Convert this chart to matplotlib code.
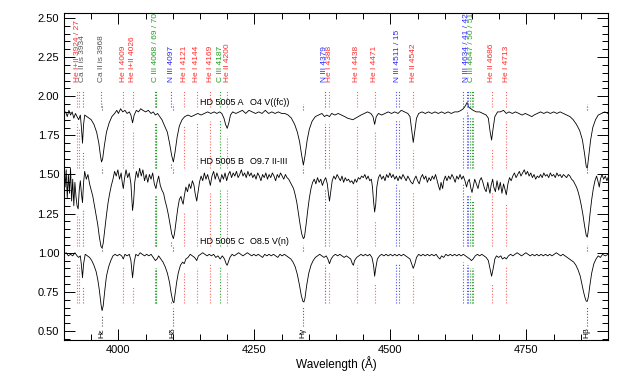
import numpy as np
import matplotlib
matplotlib.use("Agg")
import matplotlib.pyplot as plt
from matplotlib.ticker import MultipleLocator, FormatStrFormatter

plt.rcParams["font.family"] = ["Liberation Sans", "DejaVu Sans"]

# normalised spectra with vertical offsets: (wavelength, flux)
spec_a = [
    (3900, 1.89), (3903, 1.90), (3906, 1.87), (3909, 1.91), (3912, 1.88), (3915, 1.90),
    (3918, 1.86), (3921, 1.89), (3924, 1.87), (3927, 1.85), (3930, 1.88), (3932, 1.80),
    (3934, 1.70), (3936, 1.82), (3938, 1.88), (3942, 1.87), (3946, 1.86), (3950, 1.85),
    (3955, 1.82), (3960, 1.77), (3964, 1.70), (3967, 1.62), (3969, 1.58), (3971, 1.60),
    (3974, 1.68), (3978, 1.77), (3983, 1.83), (3988, 1.87), (3993, 1.89), (3997, 1.91),
    (4000, 1.89), (4004, 1.92), (4008, 1.90), (4012, 1.91), (4016, 1.89), (4020, 1.90),
    (4023, 1.88), (4026, 1.83), (4029, 1.88), (4033, 1.91), (4037, 1.90), (4041, 1.92),
    (4045, 1.91), (4050, 1.90), (4055, 1.91), (4060, 1.89), (4064, 1.90), (4068, 1.88),
    (4072, 1.89), (4076, 1.87), (4080, 1.85), (4085, 1.81), (4090, 1.77), (4094, 1.70),
    (4098, 1.62), (4101, 1.58), (4104, 1.64), (4108, 1.74), (4112, 1.81), (4117, 1.85),
    (4122, 1.87), (4128, 1.88), (4134, 1.87), (4140, 1.88), (4146, 1.89), (4152, 1.88),
    (4158, 1.89), (4164, 1.90), (4170, 1.89), (4176, 1.90), (4181, 1.89), (4186, 1.90),
    (4190, 1.89), (4194, 1.86), (4197, 1.82), (4200, 1.795), (4203, 1.83), (4206, 1.88),
    (4210, 1.90), (4216, 1.89), (4222, 1.90), (4228, 1.91), (4234, 1.89), (4240, 1.91),
    (4246, 1.90), (4252, 1.89), (4258, 1.90), (4264, 1.89), (4270, 1.91), (4276, 1.89),
    (4282, 1.90), (4288, 1.89), (4294, 1.90), (4300, 1.89), (4306, 1.89), (4312, 1.88),
    (4318, 1.86), (4324, 1.82), (4329, 1.77), (4333, 1.71), (4337, 1.62), (4340, 1.56),
    (4343, 1.62), (4347, 1.72), (4351, 1.79), (4356, 1.84), (4362, 1.87), (4368, 1.88),
    (4374, 1.89), (4379, 1.87), (4383, 1.88), (4388, 1.87), (4392, 1.89), (4398, 1.88),
    (4404, 1.89), (4410, 1.88), (4416, 1.87), (4421, 1.86), (4426, 1.855), (4431, 1.85),
    (4436, 1.86), (4441, 1.87), (4446, 1.88), (4452, 1.89), (4458, 1.90), (4464, 1.89),
    (4468, 1.87), (4471, 1.82), (4474, 1.87), (4478, 1.89), (4484, 1.88), (4490, 1.89),
    (4496, 1.90), (4502, 1.89), (4508, 1.90), (4514, 1.89), (4520, 1.91), (4526, 1.90),
    (4532, 1.89), (4536, 1.87), (4539, 1.79), (4542, 1.705), (4545, 1.78), (4548, 1.86),
    (4552, 1.89), (4558, 1.90), (4564, 1.89), (4570, 1.90), (4576, 1.89), (4582, 1.90),
    (4588, 1.89), (4594, 1.90), (4600, 1.89), (4606, 1.90), (4612, 1.89), (4618, 1.90),
    (4624, 1.90), (4630, 1.91), (4634, 1.92), (4638, 1.94), (4641, 1.96), (4644, 1.93),
    (4648, 1.92), (4652, 1.91), (4658, 1.90), (4664, 1.90), (4670, 1.89), (4676, 1.88),
    (4680, 1.86), (4683, 1.78), (4686, 1.72), (4689, 1.80), (4692, 1.87), (4697, 1.90),
    (4702, 1.90), (4708, 1.91), (4713, 1.89), (4718, 1.90), (4724, 1.89), (4730, 1.90),
    (4736, 1.89), (4742, 1.88), (4748, 1.89), (4754, 1.88), (4760, 1.87), (4764, 1.88),
    (4770, 1.89), (4776, 1.90), (4782, 1.89), (4788, 1.90), (4794, 1.89), (4800, 1.90),
    (4806, 1.89), (4812, 1.90), (4818, 1.89), (4824, 1.88), (4830, 1.87), (4836, 1.85),
    (4842, 1.82), (4848, 1.78), (4853, 1.72), (4857, 1.63), (4860, 1.55), (4862, 1.54),
    (4864, 1.60), (4868, 1.72), (4872, 1.80), (4877, 1.85), (4882, 1.88), (4888, 1.89),
    (4894, 1.90), (4900, 1.89),
]

spec_b = [
    (3900, 1.55), (3902, 1.42), (3904, 1.53), (3906, 1.35), (3908, 1.50), (3910, 1.38),
    (3912, 1.54), (3914, 1.33), (3916, 1.47), (3918, 1.30), (3920, 1.45), (3922, 1.36),
    (3924, 1.30), (3926, 1.28), (3928, 1.40), (3930, 1.46), (3932, 1.38), (3934, 1.32),
    (3936, 1.45), (3938, 1.52), (3941, 1.47), (3944, 1.50), (3947, 1.44), (3950, 1.40),
    (3953, 1.36), (3956, 1.30), (3959, 1.24), (3962, 1.18), (3965, 1.10), (3968, 1.04),
    (3970, 1.03), (3972, 1.06), (3975, 1.15), (3978, 1.24), (3981, 1.32), (3984, 1.38),
    (3987, 1.43), (3990, 1.47), (3993, 1.52), (3996, 1.49), (3999, 1.53), (4002, 1.47),
    (4005, 1.51), (4007, 1.45), (4009, 1.41), (4011, 1.47), (4014, 1.53), (4017, 1.48),
    (4020, 1.51), (4023, 1.44), (4025, 1.32), (4026, 1.27), (4028, 1.33), (4030, 1.45),
    (4033, 1.52), (4036, 1.48), (4039, 1.54), (4042, 1.49), (4045, 1.53), (4048, 1.46),
    (4051, 1.50), (4054, 1.45), (4057, 1.50), (4060, 1.47), (4063, 1.51), (4066, 1.44),
    (4069, 1.41), (4071, 1.45), (4074, 1.49), (4077, 1.43), (4080, 1.40), (4083, 1.38),
    (4086, 1.33), (4089, 1.29), (4092, 1.24), (4095, 1.18), (4098, 1.12), (4101, 1.09),
    (4103, 1.12), (4106, 1.20), (4109, 1.28), (4112, 1.34), (4115, 1.36), (4117, 1.33),
    (4119, 1.31), (4121, 1.36), (4124, 1.42), (4127, 1.39), (4130, 1.44), (4133, 1.41),
    (4136, 1.46), (4139, 1.43), (4141, 1.38), (4144, 1.33), (4146, 1.38), (4149, 1.45),
    (4152, 1.49), (4155, 1.46), (4158, 1.51), (4161, 1.47), (4164, 1.50), (4167, 1.46),
    (4169, 1.43), (4172, 1.49), (4175, 1.52), (4178, 1.47), (4181, 1.51), (4184, 1.48),
    (4187, 1.45), (4190, 1.50), (4193, 1.47), (4196, 1.51), (4199, 1.46), (4202, 1.50),
    (4205, 1.52), (4208, 1.48), (4211, 1.51), (4214, 1.49), (4217, 1.52), (4220, 1.48),
    (4223, 1.50), (4226, 1.53), (4229, 1.49), (4232, 1.51), (4235, 1.48), (4238, 1.52),
    (4241, 1.49), (4244, 1.51), (4247, 1.48), (4250, 1.50), (4253, 1.47), (4256, 1.51),
    (4259, 1.49), (4262, 1.46), (4265, 1.50), (4268, 1.48), (4271, 1.51), (4274, 1.47),
    (4277, 1.50), (4280, 1.48), (4283, 1.51), (4286, 1.49), (4289, 1.46), (4292, 1.50),
    (4295, 1.48), (4298, 1.51), (4301, 1.49), (4304, 1.47), (4307, 1.50), (4310, 1.48),
    (4313, 1.47), (4316, 1.45), (4319, 1.43), (4322, 1.41), (4325, 1.37), (4328, 1.32),
    (4331, 1.25), (4334, 1.18), (4337, 1.12), (4340, 1.09), (4342, 1.10), (4345, 1.18),
    (4348, 1.27), (4351, 1.35), (4354, 1.41), (4357, 1.45), (4360, 1.47), (4363, 1.44),
    (4366, 1.48), (4369, 1.45), (4372, 1.47), (4375, 1.43), (4378, 1.46), (4381, 1.48),
    (4384, 1.44), (4386, 1.38), (4388, 1.33), (4390, 1.38), (4393, 1.46), (4396, 1.49),
    (4399, 1.47), (4402, 1.50), (4405, 1.48), (4408, 1.46), (4411, 1.49), (4414, 1.45),
    (4417, 1.48), (4420, 1.46), (4423, 1.47), (4426, 1.45), (4429, 1.46), (4432, 1.44),
    (4435, 1.47), (4438, 1.45), (4441, 1.48), (4444, 1.47), (4447, 1.49), (4450, 1.48),
    (4453, 1.50), (4456, 1.47), (4459, 1.49), (4462, 1.46), (4465, 1.47), (4467, 1.42),
    (4469, 1.33), (4471, 1.26), (4473, 1.31), (4475, 1.42), (4478, 1.48), (4481, 1.50),
    (4484, 1.47), (4487, 1.49), (4490, 1.46), (4493, 1.50), (4496, 1.48), (4499, 1.51),
    (4502, 1.48), (4505, 1.50), (4508, 1.47), (4511, 1.49), (4514, 1.46), (4517, 1.49),
    (4520, 1.47), (4523, 1.50), (4526, 1.48), (4529, 1.46), (4532, 1.49), (4535, 1.47),
    (4538, 1.45), (4541, 1.44), (4544, 1.47), (4547, 1.49), (4550, 1.46), (4553, 1.44),
    (4556, 1.48), (4559, 1.50), (4562, 1.47), (4565, 1.49), (4568, 1.45), (4571, 1.48),
    (4574, 1.46), (4577, 1.49), (4580, 1.47), (4583, 1.50), (4586, 1.46), (4589, 1.42),
    (4591, 1.40), (4593, 1.45), (4596, 1.41), (4598, 1.46), (4601, 1.49), (4604, 1.46),
    (4607, 1.49), (4610, 1.47), (4613, 1.50), (4616, 1.48), (4619, 1.45), (4622, 1.49),
    (4625, 1.47), (4628, 1.50), (4631, 1.47), (4634, 1.49), (4637, 1.46), (4640, 1.42),
    (4642, 1.45), (4645, 1.47), (4648, 1.41), (4650, 1.385), (4652, 1.42), (4655, 1.47),
    (4658, 1.44), (4661, 1.41), (4664, 1.46), (4667, 1.48), (4670, 1.45), (4673, 1.41),
    (4676, 1.39), (4679, 1.45), (4681, 1.41), (4683, 1.38), (4685, 1.43), (4688, 1.47),
    (4690, 1.42), (4693, 1.39), (4696, 1.46), (4699, 1.40), (4702, 1.45), (4705, 1.38),
    (4708, 1.44), (4711, 1.40), (4713, 1.37), (4716, 1.44), (4719, 1.48), (4722, 1.46),
    (4725, 1.49), (4728, 1.51), (4731, 1.48), (4734, 1.50), (4737, 1.52), (4740, 1.49),
    (4743, 1.51), (4746, 1.53), (4749, 1.50), (4752, 1.52), (4755, 1.49), (4758, 1.51),
    (4761, 1.48), (4764, 1.50), (4767, 1.47), (4770, 1.49), (4773, 1.48), (4776, 1.50),
    (4779, 1.48), (4782, 1.51), (4785, 1.49), (4788, 1.50), (4791, 1.48), (4794, 1.51),
    (4797, 1.49), (4800, 1.50), (4803, 1.48), (4806, 1.51), (4809, 1.49), (4812, 1.50),
    (4815, 1.48), (4818, 1.50), (4821, 1.49), (4824, 1.48), (4827, 1.50), (4830, 1.49),
    (4833, 1.47), (4836, 1.46), (4839, 1.44), (4842, 1.42), (4845, 1.39), (4848, 1.35),
    (4851, 1.30), (4854, 1.24), (4857, 1.17), (4860, 1.11), (4862, 1.10), (4864, 1.15),
    (4867, 1.25), (4870, 1.34), (4873, 1.41), (4876, 1.46), (4879, 1.49), (4882, 1.45),
    (4884, 1.42), (4886, 1.47), (4889, 1.50), (4892, 1.47), (4895, 1.49), (4898, 1.46),
    (4900, 1.48),
]

spec_c = [
    (3900, 0.99), (3904, 1.00), (3908, 0.98), (3912, 0.99), (3916, 0.98), (3920, 1.00),
    (3924, 0.98), (3927, 0.97), (3930, 0.98), (3932, 0.92), (3934, 0.84), (3936, 0.93),
    (3939, 0.99), (3943, 0.98), (3947, 0.97), (3951, 0.95), (3955, 0.92), (3959, 0.88),
    (3962, 0.83), (3965, 0.76), (3968, 0.67), (3970, 0.63), (3972, 0.66), (3975, 0.76),
    (3978, 0.85), (3982, 0.91), (3986, 0.95), (3990, 0.98), (3994, 0.99), (3998, 0.98),
    (4002, 0.99), (4006, 0.98), (4009, 0.96), (4012, 0.99), (4016, 0.98), (4020, 0.99),
    (4023, 0.95), (4026, 0.84), (4029, 0.94), (4032, 0.99), (4036, 0.98), (4040, 1.00),
    (4044, 0.99), (4048, 0.98), (4052, 0.99), (4056, 0.98), (4060, 0.99), (4064, 0.97),
    (4068, 0.95), (4071, 0.96), (4074, 0.98), (4078, 0.96), (4082, 0.94), (4086, 0.91),
    (4090, 0.87), (4094, 0.81), (4097, 0.74), (4100, 0.69), (4102, 0.68), (4104, 0.73),
    (4107, 0.81), (4110, 0.87), (4114, 0.92), (4118, 0.94), (4121, 0.93), (4124, 0.96),
    (4128, 0.97), (4132, 0.99), (4136, 0.98), (4140, 0.97), (4144, 0.95), (4147, 0.98),
    (4151, 0.99), (4155, 1.00), (4159, 0.99), (4163, 0.98), (4167, 0.99), (4171, 0.98),
    (4175, 0.99), (4179, 0.97), (4183, 0.98), (4187, 0.96), (4191, 0.98), (4195, 0.96),
    (4198, 0.93), (4200, 0.92), (4202, 0.94), (4205, 0.97), (4209, 0.99), (4213, 0.98),
    (4217, 0.99), (4221, 1.00), (4225, 0.99), (4229, 0.98), (4233, 0.99), (4237, 1.00),
    (4241, 0.99), (4245, 0.98), (4249, 0.99), (4253, 0.98), (4257, 0.99), (4261, 0.98),
    (4265, 0.97), (4269, 0.99), (4273, 0.98), (4277, 0.99), (4281, 0.98), (4285, 0.99),
    (4289, 0.98), (4293, 0.97), (4297, 0.99), (4301, 0.98), (4305, 0.99), (4309, 0.98),
    (4313, 0.97), (4317, 0.96), (4321, 0.94), (4325, 0.91), (4329, 0.86), (4333, 0.79),
    (4336, 0.73), (4339, 0.69), (4341, 0.685), (4343, 0.71), (4346, 0.79), (4350, 0.87),
    (4354, 0.92), (4358, 0.95), (4362, 0.97), (4366, 0.98), (4370, 0.99), (4374, 0.98),
    (4378, 0.97), (4382, 0.98), (4385, 0.96), (4388, 0.93), (4391, 0.96), (4395, 0.98),
    (4399, 0.99), (4403, 0.98), (4407, 0.99), (4411, 0.98), (4415, 0.97), (4419, 0.98),
    (4423, 0.97), (4427, 0.96), (4430, 0.93), (4432, 0.92), (4434, 0.95), (4438, 0.97),
    (4442, 0.98), (4446, 0.99), (4450, 0.98), (4454, 0.99), (4458, 0.98), (4462, 0.99),
    (4466, 0.97), (4469, 0.92), (4471, 0.85), (4473, 0.90), (4476, 0.96), (4480, 0.98),
    (4484, 0.99), (4488, 0.98), (4492, 0.99), (4496, 0.98), (4500, 0.99), (4504, 0.98),
    (4508, 0.99), (4512, 0.98), (4516, 0.99), (4520, 0.98), (4524, 0.99), (4528, 0.98),
    (4532, 0.97), (4536, 0.96), (4539, 0.93), (4542, 0.90), (4545, 0.93), (4548, 0.97),
    (4552, 0.99), (4556, 0.98), (4560, 0.99), (4564, 0.98), (4568, 0.99), (4572, 0.98),
    (4576, 0.99), (4580, 0.98), (4584, 0.99), (4588, 0.97), (4591, 0.96), (4594, 0.98),
    (4598, 0.97), (4602, 0.99), (4606, 0.98), (4610, 0.99), (4614, 0.98), (4618, 0.99),
    (4622, 0.98), (4626, 0.99), (4630, 0.98), (4634, 0.99), (4638, 0.98), (4642, 0.97),
    (4646, 0.96), (4649, 0.95), (4652, 0.96), (4656, 0.98), (4660, 0.99), (4664, 0.98),
    (4668, 0.99), (4672, 0.98), (4676, 0.97), (4680, 0.95), (4683, 0.90), (4686, 0.85),
    (4689, 0.90), (4692, 0.96), (4695, 0.98), (4699, 0.97), (4703, 0.98), (4706, 0.96),
    (4710, 0.97), (4713, 0.96), (4717, 0.98), (4721, 0.99), (4725, 0.98), (4729, 0.99),
    (4733, 1.00), (4737, 0.99), (4741, 0.98), (4745, 0.99), (4749, 1.00), (4753, 0.99),
    (4757, 0.98), (4761, 0.99), (4765, 0.98), (4769, 0.99), (4773, 0.98), (4777, 0.99),
    (4781, 0.98), (4785, 0.99), (4789, 0.98), (4793, 0.99), (4797, 0.98), (4801, 0.99),
    (4805, 1.00), (4809, 0.99), (4813, 0.98), (4817, 0.99), (4821, 0.98), (4825, 0.97),
    (4829, 0.96), (4833, 0.95), (4837, 0.94), (4841, 0.92), (4845, 0.89), (4849, 0.85),
    (4852, 0.80), (4855, 0.75), (4858, 0.71), (4860, 0.69), (4862, 0.69), (4864, 0.72),
    (4867, 0.80), (4870, 0.87), (4874, 0.93), (4878, 0.96), (4882, 0.98), (4886, 0.97),
    (4890, 0.99), (4895, 0.98), (4900, 0.99),
]

star_names = ["HD 5005 A", "HD 5005 B", "HD 5005 C"]
star_types = ["O4 V((fc))", "O9.7 II-III", "O8.5 V(n)"]
star_label_y = [1.96, 1.58, 1.07]
continuum = [1.89, 1.49, 0.99]

# line identifications: label, species, rest wavelengths
line_ids = ["He I+II 3924 / 27", "Ca II is 3934", "Ca II is 3968", "He I 4009",
            "He I+II 4026", "C III 4068 / 69 / 70", "N III 4097", "He I 4121",
            "He I 4144", "He I 4169", "C III 4187", "He II 4200", "N III 4379",
            "He I 4388", "He I 4438", "He I 4471", "N III 4511 / 15", "He II 4542",
            "N III 4634 / 41 / 42", "C III 4647 / 50 / 51", "He II 4686", "He I 4713"]
line_species = ["He", "Ca", "Ca", "He", "He", "C", "N", "He", "He", "He", "C", "He",
                "N", "He", "He", "He", "N", "He", "N", "C", "He", "He"]
line_waves = [[3923, 3927], [3934], [3968], [4009], [4026], [4068, 4069, 4070],
              [4097], [4121], [4144], [4169], [4187], [4200], [4379], [4388], [4438],
              [4471], [4511, 4515], [4542], [4634, 4641, 4642], [4647, 4650, 4651],
              [4686], [4713]]

balmer_names = ["H\u03b5", "H\u03b4", "H\u03b3", "H\u03b2"]
balmer_waves = [3970, 4101, 4340, 4861]

species_color = {"He": "#ff2a2a", "N": "#2a2aff", "C": "#1f9f1f", "Ca": "#555555"}
marker_color = {"He": "#ff6060", "N": "#5050ff", "C": "#30a030", "Ca": "#777777"}

spectra = [np.array(s) for s in (spec_a, spec_b, spec_c)]
lower_end = [1.54, 1.04, 0.68]
dots = (0, (1, 1.6))


def local_min(sp, wl, half=2.5):
    sel = np.abs(sp[:, 0] - wl) <= half
    vals = list(sp[sel, 1]) + [np.interp(wl, sp[:, 0], sp[:, 1])]
    return min(vals)


fig = plt.figure(figsize=(6.35, 3.82), dpi=100)
ax = fig.add_axes([0.1008, 0.110, 0.8567, 0.856])

for sp in spectra:
    ax.plot(sp[:, 0], sp[:, 1], color="black", lw=0.6)

# line markers and labels
for text, sp_name, waves in zip(line_ids, line_species, line_waves):
    col = marker_color[sp_name]
    for wl in waves:
        ax.plot([wl, wl], [1.93, 2.04], color=col, lw=0.8, ls=dots)
        for sp, lo in zip(spectra, lower_end):
            hi = local_min(sp, wl) - 0.05
            if hi > lo:
                ax.plot([wl, wl], [lo, hi], color=col, lw=0.8, ls=dots)
    ax.text(np.mean(waves), 2.09, text, rotation=90, ha="center", va="bottom",
            fontsize=6, color=species_color[sp_name])

# Balmer lines
for name, wl in zip(balmer_names, balmer_waves):
    for c in continuum:
        ax.plot([wl, wl], [c + 0.02, c + 0.06], color="0.35", lw=0.8, ls=dots)
    ax.plot([wl, wl], [0.53, local_min(spectra[2], wl) - 0.03], color="0.35",
            lw=0.8, ls=dots)
    ax.text(wl, 0.455, name, rotation=90, ha="center", va="bottom", fontsize=6,
            color="black")

for name, kind, y in zip(star_names, star_types, star_label_y):
    ax.text(4150, y, name, fontsize=6.5, ha="left", va="center")
    ax.text(4242, y, kind, fontsize=6.5, ha="left", va="center")

ax.set_xlim(3900, 4900)
ax.set_ylim(0.4425, 2.532)
ax.xaxis.set_major_locator(MultipleLocator(250))
ax.xaxis.set_minor_locator(MultipleLocator(50))
ax.yaxis.set_major_locator(MultipleLocator(0.25))
ax.yaxis.set_minor_locator(MultipleLocator(0.05))
ax.yaxis.set_major_formatter(FormatStrFormatter("%.2f"))
ax.tick_params(which="both", direction="in", top=True, right=True, width=0.7,
               labelsize=8)
ax.tick_params(which="major", length=8)
ax.tick_params(which="minor", length=4.5)
for s in ax.spines.values():
    s.set_linewidth(0.8)
ax.set_xlabel("Wavelength (\u00c5)", fontsize=8.5, labelpad=1)

fig.savefig("out.png", dpi=100)
